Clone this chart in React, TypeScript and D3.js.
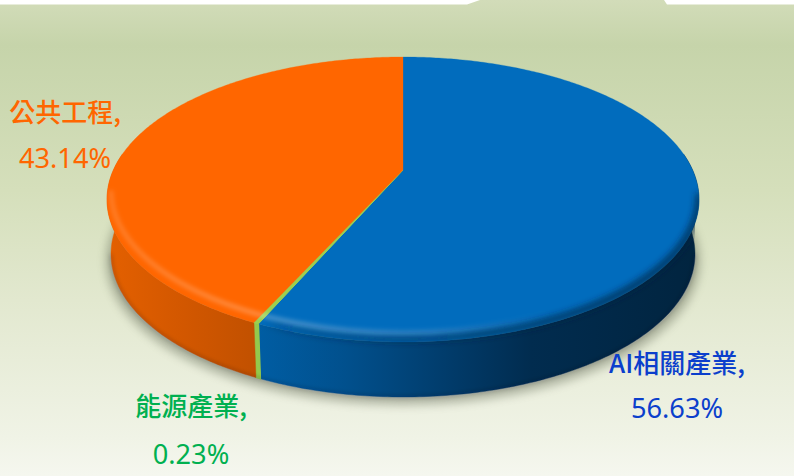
import React from "react";
import * as d3 from "d3";

const categories = ["AI相關產業", "能源產業", "公共工程"];
const shares = [56.63, 0.23, 43.14];
const shareLabels = ["56.63%", "0.23%", "43.14%"];
const topColors = ["#016cbd", "#9bd04f", "#ff6600"];
const labelColors = ["#0b3fcc", "#00b050", "#ff6600"];

const W = 794, H = 476;
const cx = 403, cyTop = 199.5, rxTop = 296, ryTop = 142.5;
const cyBot = 254, rxBot = 292, ryBot = 143;
const apexY = 170, topY = 57, botY = 342;
const c = (2 * apexY - topY - botY) / (botY - topY);
const a = botY + botY * c - apexY;
const k = rxTop * Math.sqrt(1 - c * c);

function project(t: number): [number, number] {
  const u = Math.sin(t), v = -Math.cos(t), d = 1 + c * v;
  return [cx + (k * u) / d, (a * v + apexY) / d];
}
function toBottom([x, y]: [number, number]): [number, number] {
  return [cx + ((x - cx) / rxTop) * rxBot, cyBot + ((y - cyTop) / ryTop) * ryBot];
}

const pieGen = d3.pie<number>().sort(null).value((d) => d);
const arcs = pieGen(shares);
const line = d3.line<[number, number]>();

function slicePath(s: number, e: number) {
  const n = Math.max(2, Math.ceil((e - s) * 80));
  const pts = d3.range(n + 1).map((i) => project(s + ((e - s) * i) / n));
  return line([[cx, apexY], ...pts])! + "Z";
}

function sideSegment(s: number, e: number) {
  const n = Math.max(2, Math.ceil((e - s) * 80));
  const top = d3.range(n + 1).map((i) => project(s + ((e - s) * i) / n));
  const bot = top.map(toBottom).reverse();
  return line([...top, ...bot])! + "Z";
}

const sideRanges = arcs.map((d) => [Math.max(d.startAngle, Math.PI / 2 - 0.12), Math.min(d.endAngle, (3 * Math.PI) / 2 + 0.12)]);
const sideFills = ["url(#sideBlue)", "#94c94c", "url(#sideOrange)"];

const labelPos = [
  { x: 677, y1: 373, y2: 418 },
  { x: 191, y1: 416, y2: 464 },
  { x: 65, y1: 122, y2: 168 },
];

const fontFamily = "'Noto Sans CJK TC', 'Noto Sans', sans-serif";
const digitFamily = "'Noto Sans', 'Open Sans', sans-serif";

export default function App() {
  return (
    <svg width={W} height={H} viewBox={`0 0 ${W} ${H}`} style={{ position: "absolute", left: 0, top: 0, display: "block" }}>
      <defs>
        <linearGradient id="bg" x1="0" y1="0" x2="0" y2="1">
          <stop offset="0" stopColor="#d2dcb9" />
          <stop offset="0.095" stopColor="#c6d4aa" />
          <stop offset="0.4" stopColor="#d5dfbb" />
          <stop offset="0.63" stopColor="#e2e8cf" />
          <stop offset="0.92" stopColor="#f0f3e6" />
          <stop offset="1" stopColor="#f5f7ef" />
        </linearGradient>
        <linearGradient id="sideBlue" gradientUnits="userSpaceOnUse" x1="258" y1="0" x2="699" y2="0">
          <stop offset="0" stopColor="#005da3" />
          <stop offset="0.2" stopColor="#01508d" />
          <stop offset="0.45" stopColor="#013a68" />
          <stop offset="0.62" stopColor="#012c4f" />
          <stop offset="1" stopColor="#01243f" />
        </linearGradient>
        <linearGradient id="sideOrange" gradientUnits="userSpaceOnUse" x1="107" y1="0" x2="262" y2="0">
          <stop offset="0" stopColor="#e46000" />
          <stop offset="0.5" stopColor="#d25700" />
          <stop offset="1" stopColor="#c05000" />
        </linearGradient>
        <linearGradient id="hi" gradientUnits="userSpaceOnUse" x1="107" y1="0" x2="699" y2="0">
          <stop offset="0" stopColor="#fff" stopOpacity="0.14" />
          <stop offset="0.3" stopColor="#fff" stopOpacity="0.26" />
          <stop offset="0.55" stopColor="#fff" stopOpacity="0.16" />
          <stop offset="0.75" stopColor="#fff" stopOpacity="0" />
        </linearGradient>
        <linearGradient id="dk" gradientUnits="userSpaceOnUse" x1="107" y1="0" x2="699" y2="0">
          <stop offset="0" stopColor="#000" stopOpacity="0" />
          <stop offset="0.26" stopColor="#000" stopOpacity="0" />
          <stop offset="0.32" stopColor="#01233f" stopOpacity="0.45" />
          <stop offset="0.6" stopColor="#01233f" stopOpacity="0.85" />
          <stop offset="0.9" stopColor="#01233f" stopOpacity="1" />
        </linearGradient>
        <filter id="blurShadow" x="-10%" y="-10%" width="120%" height="120%">
          <feGaussianBlur stdDeviation="5" />
        </filter>
        <filter id="blurHi" x="-5%" y="-10%" width="110%" height="120%">
          <feGaussianBlur stdDeviation="2" />
        </filter>
        <filter id="blurDk" x="-5%" y="-10%" width="110%" height="120%">
          <feGaussianBlur stdDeviation="3.5" />
        </filter>
        <clipPath id="bodyClip">
          <ellipse cx={cx} cy={cyTop} rx={rxTop} ry={ryTop} />
          <ellipse cx={cx} cy={cyBot} rx={rxBot} ry={ryBot} />
          <rect x={cx - rxBot} y={cyTop} width={rxBot * 2} height={cyBot - cyTop} />
        </clipPath>
      </defs>

      <rect x="0" y="0" width={W} height={H} fill="#fff" />
      <path d={`M0 4.5H467L480 0H664L667 4.5H${W}V${H}H0Z`} fill="url(#bg)" />

      <ellipse cx={cx} cy={cyBot + 7} rx={rxBot + 5} ry={ryBot + 1} fill="#5c6450" opacity="0.42" filter="url(#blurShadow)" />

      <g>
        {arcs.map((d, i) => (
          <path key={i} d={sideSegment(sideRanges[i][0], sideRanges[i][1])} fill={sideFills[i]} stroke={sideFills[i]} strokeWidth={i === 1 ? 1.4 : 0.4} />
        ))}
        <path
          d={`M${cx - rxBot} ${cyBot}A${rxBot} ${ryBot} 0 0 0 ${cx + rxBot} ${cyBot}`}
          fill="none"
          stroke="#001a30"
          strokeOpacity="0.3"
          strokeWidth="2"
          filter="url(#blurHi)"
        />
      </g>

      {arcs.map((d, i) => (
        <path key={i} d={slicePath(d.startAngle, d.endAngle)} fill={topColors[i]} stroke={topColors[i]} strokeWidth={i === 1 ? 1 : 0.3} />
      ))}
      <g clipPath="url(#bodyClip)">
        <path
          d={`M${cx - rxTop} ${cyTop}A${rxTop} ${ryTop} 0 0 0 ${cx + rxTop} ${cyTop - 6}`}
          fill="none"
          stroke="url(#dk)"
          strokeWidth="5"
          filter="url(#blurDk)"
        />
        <path
          d={`M${cx - rxTop + 4} ${cyTop - 9}A${rxTop - 4} ${ryTop} 0 0 0 ${cx + rxTop - 4} ${cyTop - 9}`}
          fill="none"
          stroke="url(#hi)"
          strokeWidth="5"
          filter="url(#blurHi)"
        />
      </g>

      {categories.map((name, i) => (
        <g key={name} fill={labelColors[i]} textAnchor="middle">
          <text x={labelPos[i].x} y={labelPos[i].y1} fontFamily={fontFamily} fontSize="26" fontWeight="500">{name + ","}</text>
          <text x={labelPos[i].x} y={labelPos[i].y2} fontFamily={digitFamily} fontSize="27.2" fontWeight="400">{shareLabels[i]}</text>
        </g>
      ))}
    </svg>
  );
}
